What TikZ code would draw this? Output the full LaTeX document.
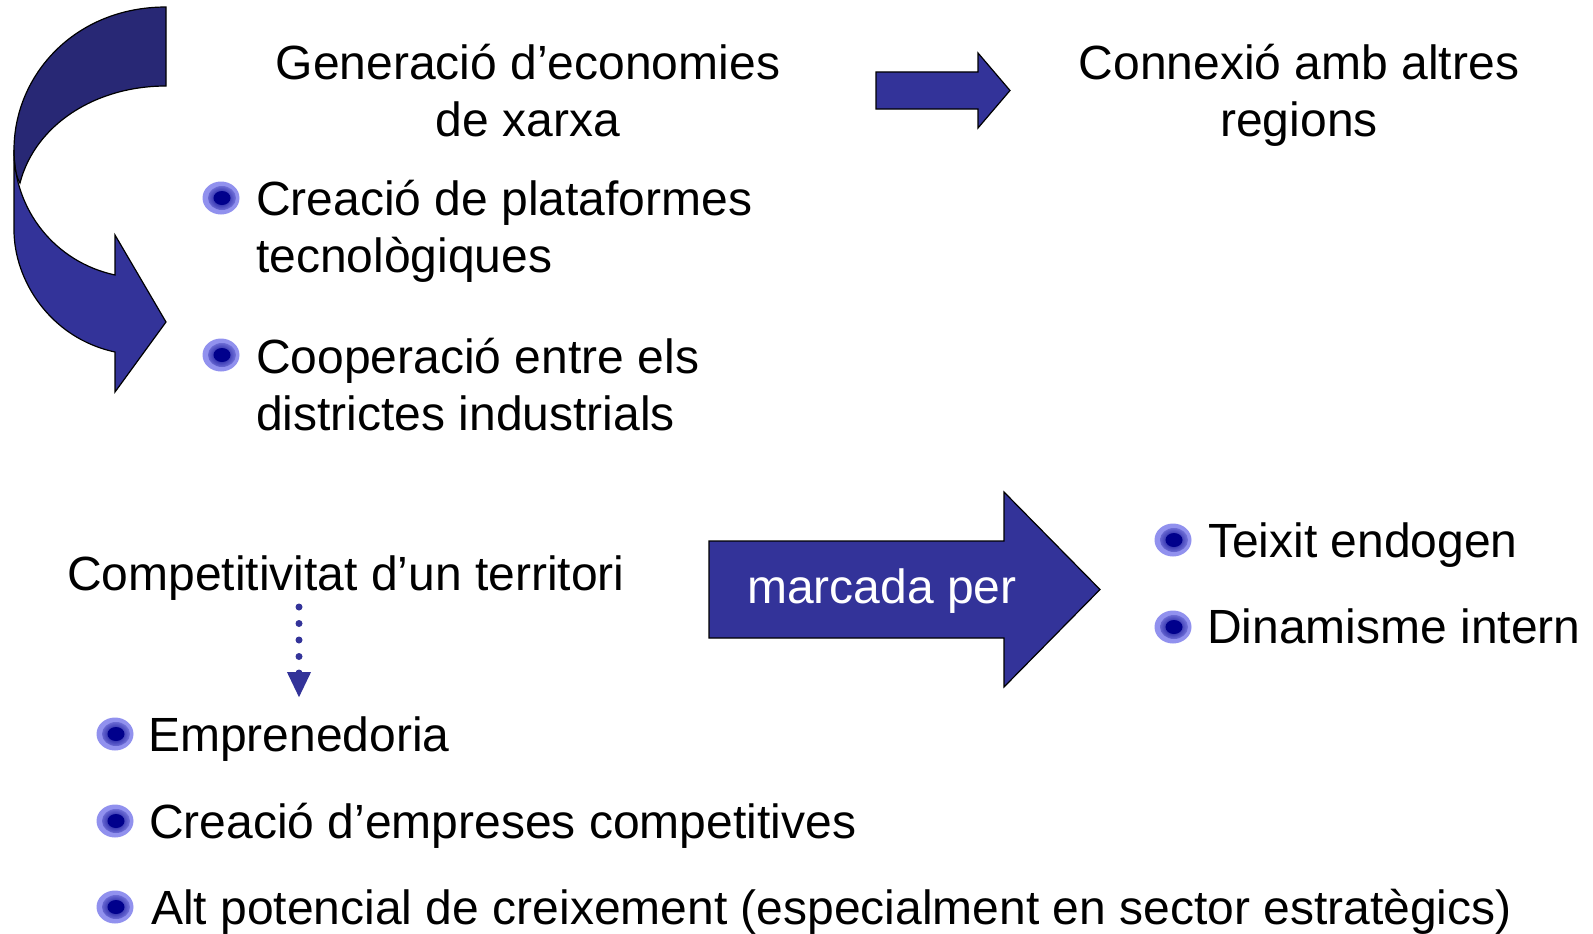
\documentclass[tikz,border=0pt]{standalone}
\usepackage{fontspec}
\setmainfont{Liberation Sans}
\usetikzlibrary{arrows.meta,shapes.geometric}
\definecolor{arrowblue}{RGB}{51,51,153}
\definecolor{arrowdark}{RGB}{40,40,117}
\definecolor{bulhalo}{RGB}{145,145,238}
\definecolor{bulcore}{RGB}{0,0,140}
\tikzset{
  txt/.style={inner sep=0pt,font=\fontsize{48pt}{57.5pt}\selectfont},
  bul/.style={ellipse,inner sep=0pt,minimum width=37pt,minimum height=33pt,fill=bulhalo,
    path picture={
      \shade[inner color=bulcore,outer color=bulhalo] ([xshift=1pt]path picture bounding box.center) ellipse (14pt and 12pt);
      \fill[bulcore] ([xshift=1pt]path picture bounding box.center) ellipse (8.5pt and 7pt);}},
  shapearrow/.style={draw=black,line width=1.2pt,line join=miter},
  dotarrow/.style={arrowblue,line width=7pt,line cap=round,dash pattern=on 0pt off 16.5pt,
    -{Triangle[length=26pt,width=22pt]}},
}

\begin{document}
\begin{tikzpicture}[x=1pt,y=-1pt]
\useasboundingbox (0,0) rectangle (1593,934);

% curved arrow on the left
\filldraw[shapearrow,fill=arrowdark] (166,7) .. controls (75,7) and (14,75) .. (14,150)
  .. controls (14,170) and (17,178) .. (20,183) .. controls (35,125) and (95,86) .. (166,86) -- cycle;
\filldraw[shapearrow,fill=arrowblue] (14,150) -- (14,230) .. controls (14,280) and (50,338) .. (115,352)
  -- (115,392) -- (166,322) -- (115,235) -- (115,275) .. controls (55,262) and (14,210) .. (14,150) -- cycle;

% base = last line
\node[txt,align=center,anchor=base] (gen) at (528,136.5) {Generació d’economies\\de xarxa};
\node[txt,align=center,anchor=base] (con) at (1299,136.5) {Connexió amb altres\\regions};

\filldraw[shapearrow,fill=arrowblue] (876,72) -- (978,72) -- (978,53) -- (1010,90.5)
  -- (978,128) -- (978,109) -- (876,109) -- cycle;

\node[bul] (b1) at (221,198) {};
\node[txt,align=left,anchor=base west] (plat) at (256,272.5) {Creació de plataformes\\tecnològiques};
\node[bul] (b2) at (221,355) {};
\node[txt,align=left,anchor=base west] (coop) at (256,430.5) {Cooperació entre els\\districtes industrials};

\node[txt,anchor=base west] (comp) at (67,590) {Competitivitat d’un territori};
\coordinate (dtop) at (299,607);
\coordinate (dend) at (299,698);
\draw[dotarrow] (dtop) -- (dend);

\filldraw[shapearrow,fill=arrowblue] (709,541) -- (1004,541) -- (1004,492) -- (1100,589.5)
  -- (1004,687) -- (1004,638) -- (709,638) -- cycle;
\node[txt,text=white,anchor=base] (marc) at (882,603) {marcada per};

\node[bul] (b3) at (1173,540) {};
\node[txt,anchor=base west] (teix) at (1208,557) {Teixit endogen};
\node[bul] (b4) at (1173,627) {};
\node[txt,anchor=base west] (dina) at (1207,643) {Dinamisme intern};

\node[bul] (b5) at (115,734) {};
\node[txt,anchor=base west] (empr) at (148,751) {Emprenedoria};
\node[bul] (b6) at (115,821) {};
\node[txt,anchor=base west] (empc) at (149,838) {Creació d’empreses competitives};
\node[bul] (b7) at (115,907) {};
\node[txt,anchor=base west] (pot) at (151,924) {Alt potencial de creixement (especialment en sector estratègics)};

\end{tikzpicture}
\end{document}
